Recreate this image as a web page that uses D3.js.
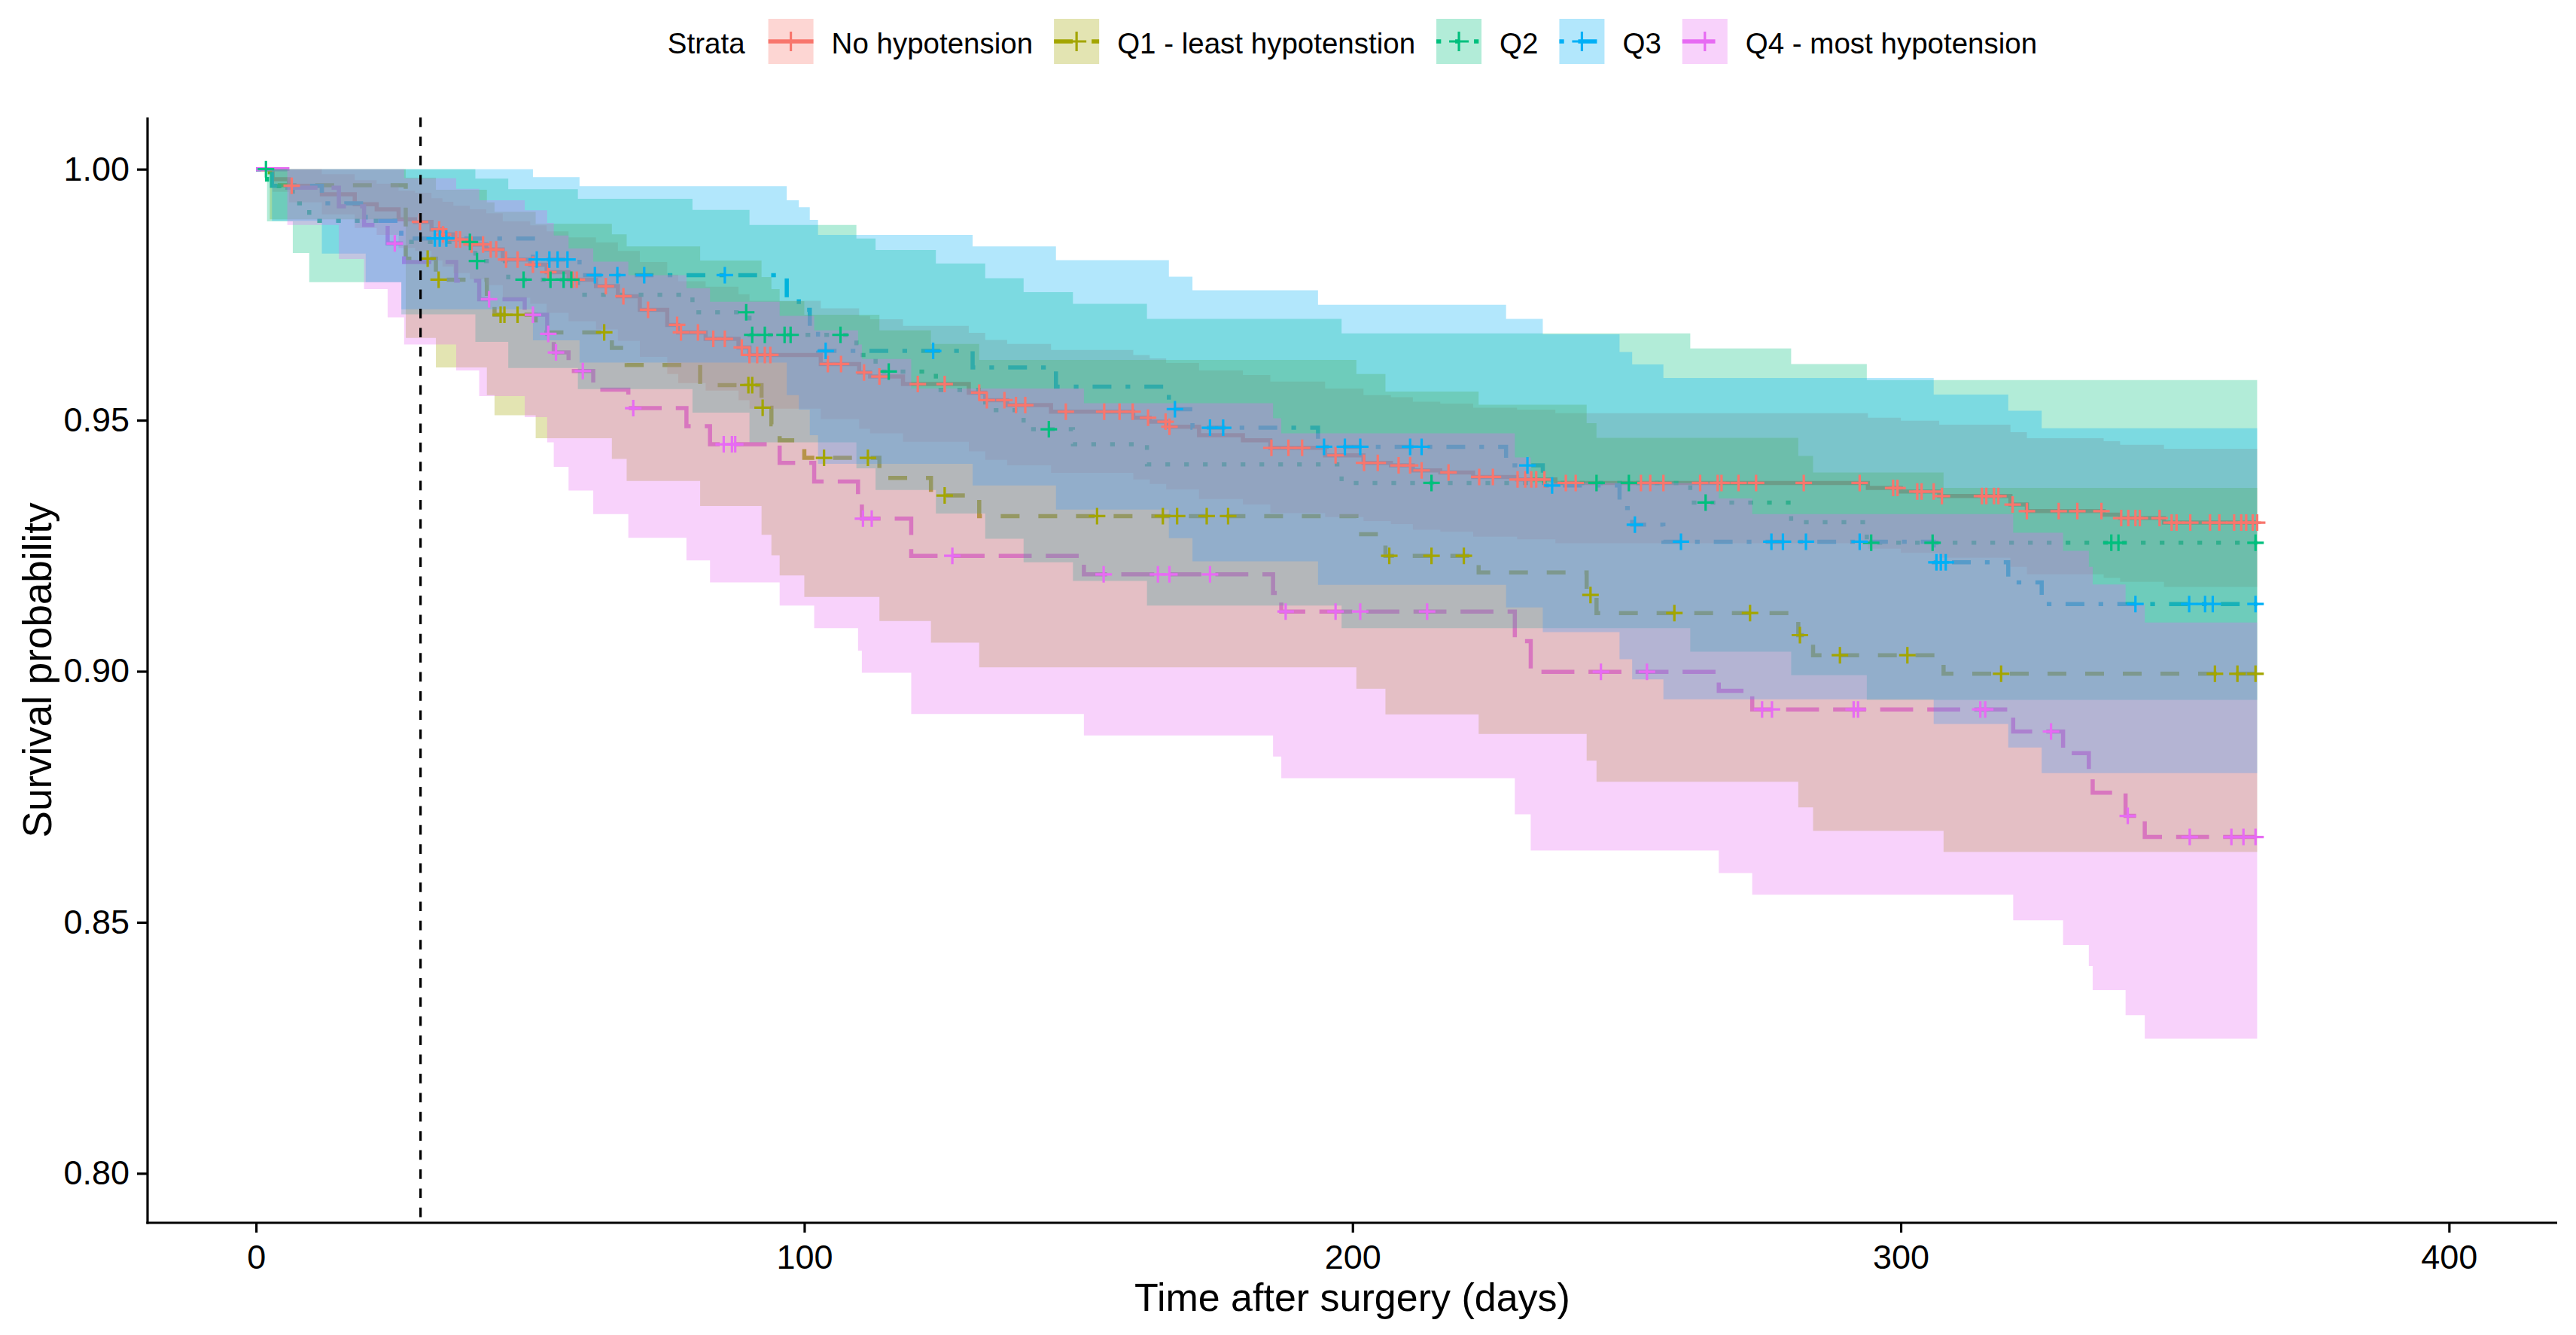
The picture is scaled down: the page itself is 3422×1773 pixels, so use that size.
<!DOCTYPE html>
<html><head><meta charset="utf-8">
<script src="https://cdn.jsdelivr.net/npm/d3@7"></script>
<style>html,body{margin:0;padding:0;background:#fff;} svg{display:block;}</style>
</head><body>
<svg id="chart" width="3422" height="1773"></svg>
<script>
// ---------------- DATA ----------------
const strata = ["No hypotension", "Q1 - least hypotenstion", "Q2", "Q3", "Q4 - most hypotension"];
const legendTitle = "Strata";
const xTicks = [0, 100, 200, 300, 400];
const yTicks = [0.80, 0.85, 0.90, 0.95, 1.00];
const xTitle = "Time after surgery (days)";
const yTitle = "Survival probability";
const followUpEnd = 365;
const landmarkDay = 30;

const timeNone = [0,3,6,12,18,22,26,29,32,34,36,39,42,45,50,53,57,62,66,70,75,77,82,88,90,103,110,112,118,130,133,137,145,160,163,166,172,180,185,195,202,207,211,216,222,230,237,294,300,307,320,323,337,340,348];
const survNone = [1,.998,.9967,.995,.993,.992,.990,.9895,.988,.987,.986,.985,.984,.982,.981,.9795,.978,.9767,.9747,.972,.969,.9675,.9662,.9645,.963,.9612,.9595,.9587,.9572,.9555,.954,.953,.9517,.9505,.9497,.9487,.947,.946,.9445,.943,.9415,.941,.940,.9396,.9387,.9382,.9375,.9365,.9358,.9349,.9332,.9319,.9312,.9305,.9296];
const lowerNone = [1,.9955,.9934,.9910,.9883,.9869,.9843,.9837,.9818,.9806,.9793,.9781,.9769,.9744,.9732,.9714,.9697,.9681,.9658,.9626,.9592,.9574,.9559,.9540,.9523,.9502,.9483,.9474,.9457,.9438,.9421,.9410,.9395,.9382,.9373,.9362,.9343,.9332,.9315,.9307,.9299,.9293,.9282,.9278,.9268,.9263,.9255,.9244,.9236,.9226,.9208,.9193,.9186,.9178,.9168];
const upperNone = [1,1,1,.9990,.9978,.9971,.9957,.9953,.9942,.9935,.9927,.9920,.9912,.9896,.9888,.9876,.9864,.9854,.9837,.9815,.9790,.9777,.9766,.9751,.9738,.9723,.9708,.9701,.9688,.9674,.9660,.9652,.9640,.9630,.9623,.9614,.9599,.9590,.9577,.9563,.9550,.9546,.9537,.9533,.9525,.9521,.9514,.9505,.9499,.9491,.9476,.9464,.9458,.9451,.9443];
const censorNone = [6.5,29.9,33.4,34.1,36.5,37.2,39.3,41.4,42.8,43.8,45.6,47.7,50.5,53.3,57.8,58.5,63.8,67,71.5,76.8,77.5,80.6,83.4,85.5,88.6,90,91.4,92.8,93.8,104.3,106.7,110.9,113.7,120.7,125.6,131.9,133.3,136.5,138.6,140.3,147.7,154.7,157.5,159.9,162.7,165.9,166.6,185.2,188.3,190.8,196.9,202.1,204.6,208.4,210.5,212.6,217.5,223.1,225.6,230.1,231.5,232.6,233.5,235,238.9,240.7,252.6,254.3,256.7,263.4,266.6,267.3,270.4,273.6,282.3,292.5,298.6,299.4,303,303.8,306,307.5,314.8,315.6,317,317.8,320.4,323,328.8,332.2,336.6,340.2,341.5,342.8,343.6,347.2,349.4,350.3,352.8,356.4,358.1,360.8,362.1,363,364.2,365];

const timeQ1 = [0,2.5,27.3,32.8,42.1,43.5,51,64.9,67.6,81,92.2,94,95.5,100,113.7,123.1,131.9,200.7,206,223,242.7,244.5,281.3,284,307.8];
const survQ1 = [1,.9968,.9822,.978,.974,.971,.9675,.9644,.961,.957,.9525,.9492,.946,.9425,.9385,.935,.9309,.9273,.923,.9197,.9152,.9116,.9072,.9032,.8995];
const lowerQ1 = [1,.9900,.9664,.9605,.9550,.9510,.9464,.9423,.9379,.9329,.9272,.9231,.9191,.9148,.9100,.9057,.9008,.8965,.8914,.8875,.8822,.8780,.8729,.8682,.8640];
const upperQ1 = [1,1,.9983,.9959,.9934,.9915,.9891,.9870,.9846,.9818,.9785,.9761,.9737,.9710,.9679,.9652,.9620,.9592,.9557,.9531,.9494,.9465,.9429,.9396,.9365];
const censorQ1 = [31.3,33.3,44.6,45.3,47.7,63.5,89.8,90.5,92.4,103.6,111.6,125.6,153.4,165.4,168,173.4,177.3,206.7,214.4,220.3,243.4,258.7,272.5,281.6,288.9,301.2,318.3,357.3,361.4,364.7];

const timeQ2 = [0,2,6.7,9.7,26.5,40,46,58.7,79.6,90,109.5,113,124,133,140,149,162.5,198,261.6,280,293.8];
const survQ2 = [1,.9966,.9932,.9897,.9855,.9817,.978,.975,.9715,.967,.963,.9597,.956,.952,.9482,.9452,.9412,.9375,.9336,.9297,.9256];
const lowerQ2 = [1,.9896,.9833,.9775,.9711,.9656,.9604,.9562,.9515,.9456,.9404,.9361,.9314,.9264,.9217,.9180,.9131,.9086,.9039,.8992,.8943];
const upperQ2 = [1,1,1,1,1,.9981,.9960,.9941,.9919,.9889,.9862,.9839,.9812,.9783,.9755,.9732,.9702,.9673,.9643,.9612,.9580];
const censorQ2 = [1.8,39,40.3,48.8,53.7,56.1,57.5,89.4,90.5,92.8,96.4,97.5,106.6,115.4,144.6,214.4,244.5,250.4,264.4,294.6,305.8,338.4,339.7,364.7];

const timeQ3 = [0,2.9,12,20,26.5,50.5,59,96.8,99,101,102.5,130.7,145.9,166.5,170.8,193.7,228,234.7,248.7,251,256.7,306,319.6,325.7];
const survQ3 = [1,.9967,.9932,.9897,.9862,.982,.9789,.9742,.972,.9682,.9638,.9605,.9567,.9522,.9485,.9447,.941,.937,.9325,.9292,.9258,.9217,.9177,.9134];
const lowerQ3 = [1,.9897,.9832,.9775,.9721,.9659,.9615,.9550,.9521,.9470,.9413,.9370,.9322,.9265,.9219,.9172,.9127,.9078,.9024,.8984,.8944,.8895,.8848,.8797];
const upperQ3 = [1,1,1,1,1,.9984,.9966,.9938,.9924,.9899,.9869,.9846,.9819,.9786,.9759,.9730,.9702,.9671,.9636,.9611,.9584,.9551,.9519,.9484];
const censorQ3 = [32.6,33.5,34.7,51.2,53.5,55,56.8,61.8,65.9,70.8,85.5,103.9,123.5,167.6,174,176.4,194.8,198.6,201.4,210.5,212.6,231.9,236.4,251.5,259.9,276.4,278.5,282.7,292.5,306.5,307.3,308.2,342.8,352.6,355.5,356.9,364.7];

const timeQ4 = [0,5.7,15.1,19.7,24,27,36.5,40.7,49,53.1,54.3,57,61.5,67.9,78.5,82.8,95.5,101.8,109.8,110.5,119.5,151,185.5,187,229.6,232.5,266.8,272.9,320.5,329.6,334.3,335,341,344.5];
const survQ4 = [1,.9963,.9926,.9889,.9852,.9815,.9778,.9741,.971,.9672,.9635,.9598,.9561,.9524,.9488,.9452,.9415,.9378,.9341,.9304,.923,.9193,.9156,.9119,.906,.8999,.8961,.8924,.888,.8837,.88,.8758,.8712,.867];
const lowerQ4 = [1,.9889,.9821,.9761,.9705,.9651,.9599,.9548,.9506,.9456,.9407,.9360,.9313,.9266,.9221,.9177,.9131,.9086,.9041,.8997,.8915,.8872,.8830,.8787,.8715,.8643,.8598,.8555,.8504,.8455,.8413,.8365,.8315,.8268];
const upperQ4 = [1,1,1,1,1,.9982,.9961,.9938,.9918,.9893,.9868,.9842,.9816,.9789,.9763,.9736,.9708,.9679,.9651,.9622,.9563,.9534,.9504,.9474,.9426,.9375,.9344,.9313,.9276,.9240,.9208,.9173,.9133,.9097];
const censorQ4 = [25.3,42.5,50.5,53.3,54.7,59.6,68.8,85.3,86.8,87.4,110.7,112.3,127,154.6,164.5,166.6,174,187.8,196.9,201.4,213.6,245.3,253.7,274.7,276.5,291.4,292.2,314.5,315.4,327.4,341.4,352.7,360.3,362.5,364.7];

// ---------------- STYLE ----------------
const colors = ["#F8766D", "#A3A500", "#00BF7D", "#00B0F6", "#E76BF3"];
const dashes = [null, "25,25", "6.25,18.75", "6.25,18.75,25,18.75", "43.75,18.75"];
const FONT = "'Liberation Sans', Arial, Helvetica, sans-serif";

const series = strata.map((name, i) => ({
  name,
  time: [timeNone, timeQ1, timeQ2, timeQ3, timeQ4][i],
  surv: [survNone, survQ1, survQ2, survQ3, survQ4][i],
  lower: [lowerNone, lowerQ1, lowerQ2, lowerQ3, lowerQ4][i],
  upper: [upperNone, upperQ1, upperQ2, upperQ3, upperQ4][i],
  censor: [censorNone, censorQ1, censorQ2, censorQ3, censorQ4][i],
  color: colors[i], dash: dashes[i]
}));

const W = 3422, H = 1773;
const panel = {left: 196, right: 3397, top: 156, bottom: 1624};
const x = d3.scaleLinear().domain([-20, 420]).range([194.5, 3399]);
const y = d3.scaleLinear().domain([0.79, 1.01]).range([1625, 158]);

const svg = d3.select("#chart");
svg.append("rect").attr("width", W).attr("height", H).attr("fill", "#fff");
svg.append("defs").append("clipPath").attr("id", "clip")
  .append("rect").attr("x", panel.left).attr("y", panel.top)
  .attr("width", panel.right - panel.left).attr("height", panel.bottom - panel.top);

const plot = svg.append("g").attr("clip-path", "url(#clip)");

function stepPoints(s) {
  const p = s.time.map((t, j) => ({t, v: s.surv[j], lo: s.lower[j], hi: s.upper[j]}));
  const last = p[p.length - 1];
  p.push({t: followUpEnd, v: last.v, lo: last.lo, hi: last.hi});
  return p;
}
const line = d3.line().x(d => x(d.t)).y(d => y(d.v)).curve(d3.curveStepAfter);
const area = d3.area().x(d => x(d.t)).y0(d => y(d.lo)).y1(d => y(d.hi)).curve(d3.curveStepAfter);

// curves (drawn first, as in survminer)
series.forEach(s => {
  plot.append("path").attr("d", line(stepPoints(s)))
    .attr("fill", "none").attr("stroke", s.color).attr("stroke-width", 5.5)
    .attr("stroke-dasharray", s.dash).attr("stroke-linecap", "butt");
});
// confidence ribbons
series.forEach(s => {
  plot.append("path").attr("d", area(stepPoints(s)))
    .attr("fill", s.color).attr("fill-opacity", 0.3).attr("stroke", "none");
});
// censor marks
const plusPath = "M-11,0H11M0,-11V11";
series.forEach(s => {
  s.censor.forEach(t => {
    const j = d3.bisectRight(s.time, t) - 1;
    plot.append("path").attr("d", plusPath)
      .attr("transform", `translate(${x(t)},${y(s.surv[j])})`)
      .attr("stroke", s.color).attr("stroke-width", 3.2).attr("fill", "none");
  });
});
// landmark line
svg.append("line").attr("x1", x(landmarkDay)).attr("x2", x(landmarkDay))
  .attr("y1", panel.top).attr("y2", panel.bottom)
  .attr("stroke", "#000").attr("stroke-width", 3.2).attr("stroke-dasharray", "12.7,12.7");

// axes
const yAxis = svg.append("g").attr("transform", `translate(${panel.left},0)`)
  .call(d3.axisLeft(y).tickValues(yTicks).tickFormat(d3.format(".2f")).tickSize(14).tickPadding(10).tickSizeOuter(0));
const xAxis = svg.append("g").attr("transform", `translate(0,${panel.bottom})`)
  .call(d3.axisBottom(x).tickValues(xTicks).tickFormat(d3.format("d")).tickSize(13).tickPadding(16).tickSizeOuter(0));
[yAxis, xAxis].forEach(a => {
  a.select(".domain").remove();
  a.selectAll(".tick line").attr("stroke", "#000").attr("stroke-width", 3.2);
  a.selectAll(".tick text").attr("fill", "#000").style("font-family", FONT).style("font-size", "45px");
});
svg.append("line").attr("x1", panel.left).attr("x2", panel.left).attr("y1", panel.top).attr("y2", panel.bottom + 1.6)
  .attr("stroke", "#000").attr("stroke-width", 3.2);
svg.append("line").attr("x1", panel.left - 1.6).attr("x2", panel.right).attr("y1", panel.bottom).attr("y2", panel.bottom)
  .attr("stroke", "#000").attr("stroke-width", 3.2);

// axis titles
svg.append("text").text(xTitle).attr("x", (panel.left + panel.right) / 2).attr("y", 1741)
  .attr("text-anchor", "middle").style("font-family", FONT).style("font-size", "52px").attr("fill", "#000");
svg.append("text").text(yTitle).attr("transform", `translate(68,${(panel.top + panel.bottom) / 2}) rotate(-90)`)
  .attr("text-anchor", "middle").style("font-family", FONT).style("font-size", "53px").attr("fill", "#000");

// legend
const lg = svg.append("g");
const baseY = 71, keyTop = 25, keySize = 60, keyMid = 55;
const LFS = "38.5px";
let cx = 0;
const titleT = lg.append("text").text(legendTitle).attr("x", cx).attr("y", baseY)
  .style("font-family", FONT).style("font-size", LFS).attr("fill", "#000");
cx += titleT.node().getComputedTextLength() + 31;
series.forEach((s, i) => {
  const k = lg.append("g").attr("transform", `translate(${cx},0)`);
  k.append("rect").attr("x", 0).attr("y", keyTop).attr("width", keySize).attr("height", keySize)
    .attr("fill", s.color).attr("fill-opacity", 0.3);
  k.append("line").attr("x1", 0).attr("x2", keySize).attr("y1", keyMid).attr("y2", keyMid)
    .attr("stroke", s.color).attr("stroke-width", 5.5).attr("stroke-dasharray", s.dash);
  k.append("path").attr("d", "M-13,0H13M0,-13V13").attr("transform", `translate(${keySize / 2},${keyMid})`)
    .attr("stroke", s.color).attr("stroke-width", 3.2).attr("fill", "none");
  cx += keySize + 24;
  const t = lg.append("text").text(s.name).attr("x", cx).attr("y", baseY)
    .style("font-family", FONT).style("font-size", LFS).attr("fill", "#000");
  cx += t.node().getComputedTextLength();
  if (i < series.length - 1) cx += 28;
});
lg.attr("transform", `translate(${(panel.left + panel.right) / 2 - cx / 2},0)`);
</script>
</body></html>
